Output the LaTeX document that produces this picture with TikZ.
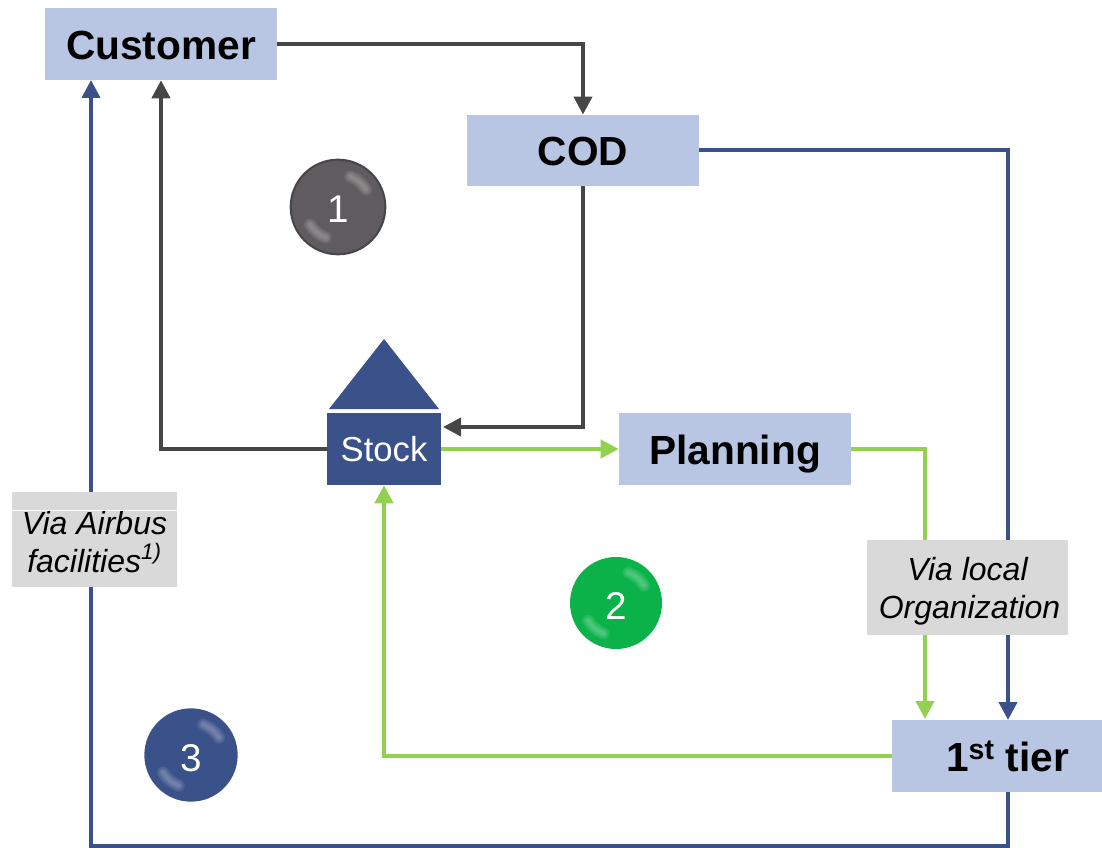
\documentclass[tikz,border=0pt]{standalone}
\usepackage{fontspec}
\setmainfont{Liberation Sans}
\usepackage{xcolor}
\usetikzlibrary{arrows.meta}
\definecolor{boxblue}{HTML}{B9C6E3}
\definecolor{navy}{HTML}{3A5289}
\definecolor{coal}{HTML}{464646}
\definecolor{leaf}{HTML}{92D050}
\definecolor{note}{HTML}{D9D9D9}
\definecolor{ballgray}{HTML}{5F5B5E}
\definecolor{ballgreen}{HTML}{0BB24A}

\begin{document}
\begin{tikzpicture}[x=0.75pt,y=-0.75pt]
    \useasboundingbox (0,0) rectangle (1102,848);

    \begin{scope}[every node/.style={fill=boxblue,inner sep=0pt,text height=23.2pt,text depth=0pt,
        font=\fontsize{30.5}{34}\selectfont\bfseries}]
      \node[minimum width=174pt,minimum height=54pt] (cust) at (161,44) {Customer};
      \node[minimum width=174pt,minimum height=53.5pt] (cod) at (583,150.5) {COD};
      \node[minimum width=174pt,minimum height=54pt] (plan) at (735,449) {Planning};
      \node[minimum width=157.5pt,minimum height=54pt] (tier) at (997,756) {\hspace{16pt}1\textsuperscript{st} tier};
    \end{scope}

    % stock symbol
    \fill[navy] (329,409) -- (384,339) -- (439,409) -- cycle;
    \node[fill=navy,text=white,inner sep=0pt,minimum width=85.5pt,minimum height=54pt,
      font=\fontsize{26}{30}\selectfont] (stock) at (384,449) {Stock};

    % free ends
    \coordinate (stockin) at (443,427);
    \coordinate (custin) at (91,80);
    \coordinate (tierin) at (925,719);
    \coordinate (tierblue) at (1008,720);
    \coordinate (tierout) at (1008,792);
    \coordinate (corner) at (1008,846);

    \begin{scope}[>={Triangle[length=13.5pt,width=13.5pt]},line width=3pt]
      \draw[coal,->] (cust.east) -| (cod.north);
      \draw[coal,->] (cod.south) |- (stockin);
      \draw[coal,->] (stock.west) -| (cust.south);

      \draw[leaf,->] (stock.east) -- (plan.west);
      \draw[leaf,->] (plan.east) -| (tierin);
      \draw[leaf,->] (tier.west) -| (stock.south);

      \draw[navy,->] (cod.east) -| (tierblue);
      \draw[navy,->] (tierout) -- (corner) -| (custin);
    \end{scope}

    \begin{scope}[every node/.style={fill=note,inner sep=0pt,align=center,
        font=\fontsize{24}{28.5}\selectfont\itshape}]
      \node[minimum width=124pt,minimum height=71pt] (airbus) at (94.5,539.5)
        {\rule{0pt}{20.5pt}Via Airbus\\facilities\textsuperscript{1)}};
      \node[minimum width=151pt,minimum height=71pt] (local) at (967.5,587.5)
        {\rule{0pt}{23.5pt}Via local\\\hspace*{3pt}Organization};
    \end{scope}
    \draw[white,line width=0.75pt] (airbus.west |- 0,510) -- (airbus.east |- 0,510);

    \begin{scope}[every node/.style={circle,inner sep=0pt,text=white,text height=24pt,text depth=0pt,
        font=\fontsize{29}{32}\selectfont}]
      \node[fill=ballgray,draw=coal,line width=1.5pt,minimum size=71pt] (ball1) at (338,207) {1};
      \node[fill=ballgreen,minimum size=69pt] (ball2) at (616,603) {2};
      \node[fill=navy,minimum size=70pt] (ball3) at (191,755) {3};
    \end{scope}

    % highlights on the balls
    \foreach \n in {1,2,3} {
      \foreach \w in {9pt,6pt,3pt} {
        \draw[white,opacity=0.1,line width=\w,line cap=round]
          (ball\n.center) ++(-68:33) arc (-68:-32:33);
        \draw[white,opacity=0.1,line width=\w,line cap=round]
          (ball\n.center) ++(112:33) arc (112:148:33);
      }
    }
\end{tikzpicture}
\end{document}
